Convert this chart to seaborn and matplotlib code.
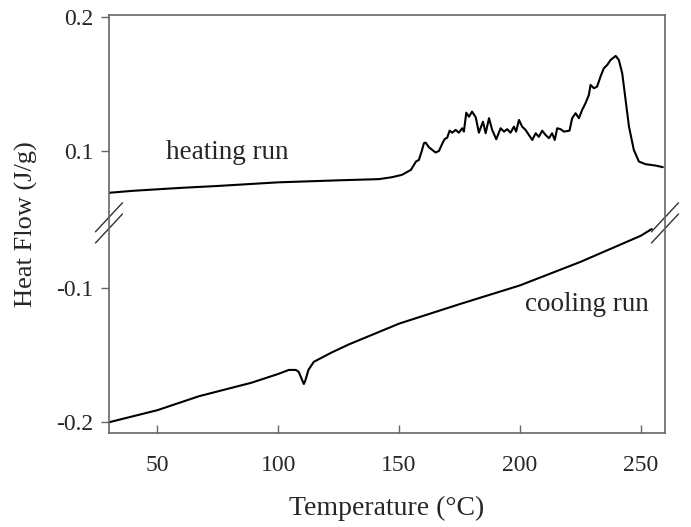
import numpy as np
import pandas as pd
import matplotlib
matplotlib.use("Agg")
import matplotlib.pyplot as plt
import seaborn as sns

# ---- data ----
heating_T = [30, 40, 50, 60, 75, 100, 125, 141.7, 147.0, 151.2, 154.9, 157.0, 158.2, 159.3, 160.3,
             161.0, 162.3, 165.1, 166.5, 167.8, 168.8, 169.9, 170.9, 172.0, 173.4, 174.7, 176.1,
             176.8, 177.8, 178.9, 180.2, 181.7, 183.0, 184.7, 185.8, 187.2, 188.5, 190.2, 192.0,
             193.4, 194.7, 196.1, 197.5, 198.4, 199.6, 200.9, 202.3, 203.7, 205.1, 206.5, 207.8,
             209.2, 210.6, 212.0, 213.3, 214.4, 215.4, 216.8, 218.2, 220.5, 221.6, 223.0, 224.4,
             225.7, 227.1, 228.5, 229.2, 230.6, 231.9, 233.3, 234.7, 236.1, 237.5, 239.6, 240.9,
             242.3, 243.7, 245.1, 247.1, 249.2, 252.0, 256.1, 259.1]
heating_HF = [0.0690, 0.0705, 0.0716, 0.0727, 0.0741, 0.0768, 0.0783, 0.0792, 0.0806, 0.0824,
              0.0861, 0.0923, 0.0935, 0.0997, 0.1060, 0.1064, 0.1030, 0.0990, 0.1002, 0.1054,
              0.1089, 0.1101, 0.1153, 0.1138, 0.1159, 0.1138, 0.1171, 0.1146, 0.1287, 0.1257,
              0.1295, 0.1253, 0.1138, 0.1220, 0.1134, 0.1246, 0.1159, 0.1089, 0.1171, 0.1146,
              0.1164, 0.1138, 0.1183, 0.1146, 0.1233, 0.1183, 0.1159, 0.1121, 0.1084, 0.1134,
              0.1107, 0.1153, 0.1121, 0.1097, 0.1134, 0.1084, 0.1171, 0.1164, 0.1146, 0.1153,
              0.1246, 0.1283, 0.1246, 0.1307, 0.1357, 0.1419, 0.1494, 0.1469, 0.1481, 0.1555,
              0.1618, 0.1643, 0.1680, 0.1710, 0.1680, 0.1581, 0.1382, 0.1183, 0.1010, 0.0923,
              0.0903, 0.0893, 0.0881]

cooling_T = [30, 50, 67.2, 89, 100, 104.4, 107.3, 108.5, 110.0, 110.6, 111.2, 112.5, 114.7, 122.1,
             129.2, 150, 175, 200, 225, 250, 254.5]
cooling_HF = [-0.2000, -0.1910, -0.1806, -0.1705, -0.1640, -0.1610, -0.1610, -0.1625, -0.1690,
              -0.1715, -0.1690, -0.1610, -0.1550, -0.1480, -0.1420, -0.1265, -0.1120, -0.0980,
              -0.0805, -0.0610, -0.0560]

x_ticks = [50, 100, 150, 200, 250]
y_tick_labels = ["0.2", "0.1", "-0.1", "-0.2"]
y_tick_values = [0.2, 0.1, -0.1, -0.2]

# broken axis: shift each segment onto a compressed display scale
UPPER_SHIFT = -0.05
LOWER_SHIFT = 0.048

def to_disp(v):
    return v + (UPPER_SHIFT if v > 0 else LOWER_SHIFT)

heat = pd.DataFrame({"T": heating_T, "HF": np.array(heating_HF) + UPPER_SHIFT, "run": "heating"})
cool = pd.DataFrame({"T": cooling_T, "HF": np.array(cooling_HF) + LOWER_SHIFT, "run": "cooling"})

sns.set_style("ticks")
plt.rcParams["font.family"] = ["Liberation Serif", "DejaVu Serif"]

fig = plt.figure(figsize=(6.91, 5.27), dpi=100)
ax = fig.add_axes([109 / 691, 1 - 433 / 527, (665 - 109) / 691, (433 - 15) / 527])

for df in (heat, cool):
    sns.lineplot(data=df, x="T", y="HF", ax=ax, color="black", linewidth=1.5,
                 estimator=None, sort=False, legend=False)

ax.set_xlim(30, 260)
ax.set_ylim(-0.160, 0.1515)
ax.set_xticks(x_ticks)
ax.set_xticklabels([str(t) for t in x_ticks])
ax.set_yticks([to_disp(v) for v in y_tick_values])
ax.set_yticklabels(y_tick_labels)

spine_col = "#666666"
for s in ax.spines.values():
    s.set_color(spine_col)
    s.set_linewidth(1.2)
ax.tick_params(axis="x", direction="in", length=6, width=1.0, color=spine_col,
               labelsize=17, pad=16, top=False)
ax.tick_params(axis="y", direction="out", length=6, width=1.0, color=spine_col,
               labelsize=17, pad=5, right=False)

ax.set_xlabel("Temperature (°C)", fontsize=20, labelpad=14)
ax.set_ylabel("Heat Flow (J/g)", fontsize=19, labelpad=13)

ax.text(78.8, 0.0487, "heating run", fontsize=19.5, ha="center", va="center")
ax.text(227.5, -0.0644, "cooling run", fontsize=19.5, ha="center", va="center")

# break marks on both spines
yb = (-0.0034 - (-0.160)) / (0.1515 + 0.160)
dx, dy, off = 0.0243, 0.0347, 0.0134
for xs in (0.0, 1.0):
    for o in (off, -off):
        ax.plot([xs - dx, xs + dx], [yb + o - dy, yb + o + dy], transform=ax.transAxes,
                color="#333333", linewidth=1.0, clip_on=False)

fig.savefig("out.png", dpi=100)
